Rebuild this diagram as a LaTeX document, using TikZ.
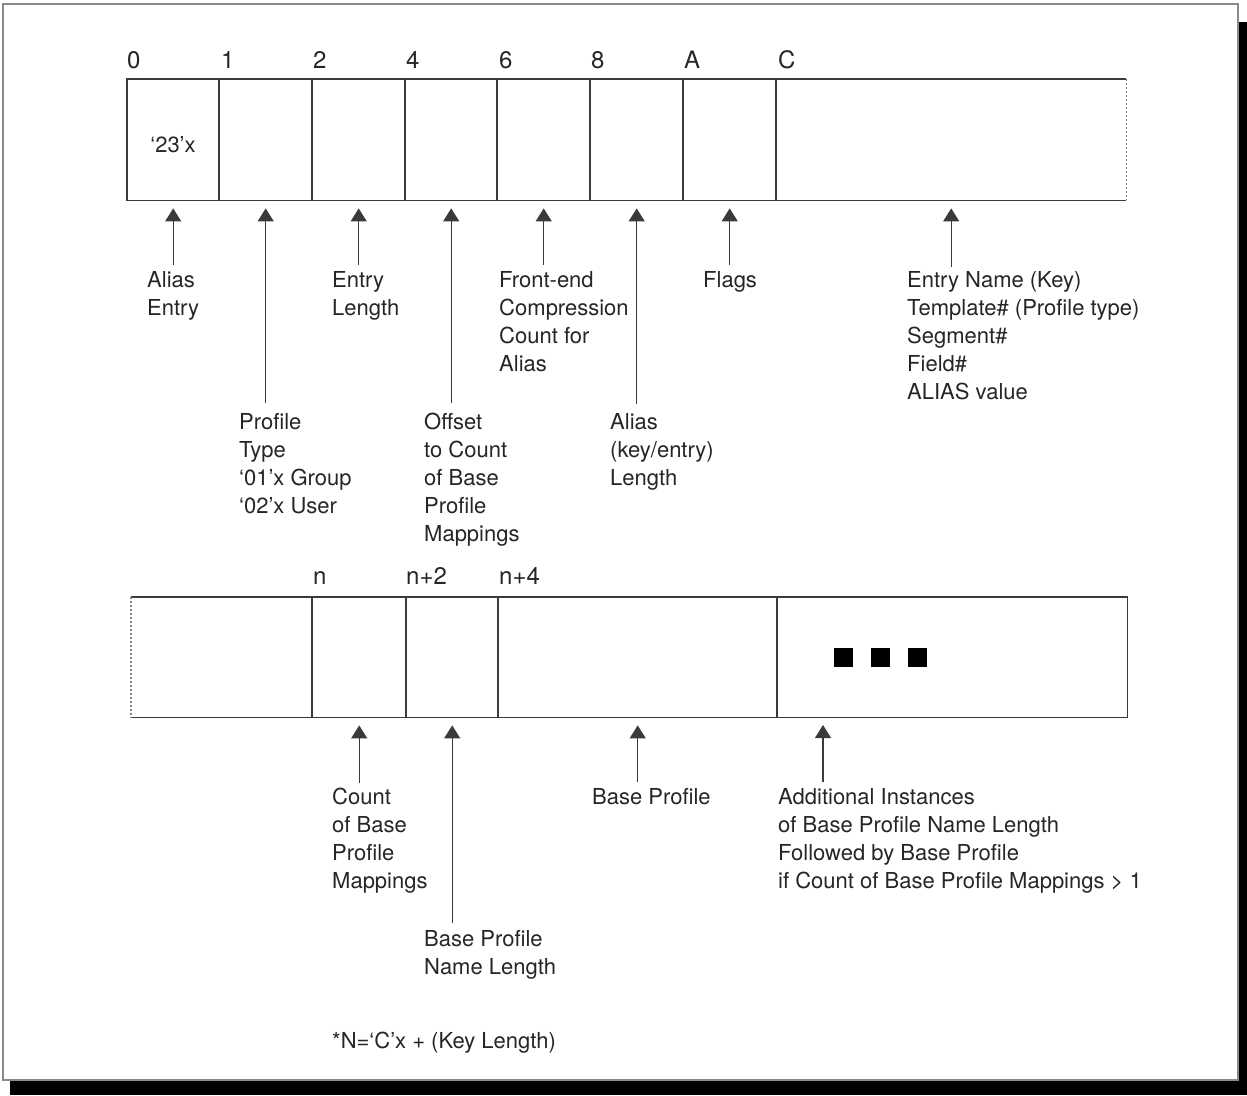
\documentclass[tikz,border=0pt]{standalone}
\usepackage{fontspec}
\setmainfont{TeX Gyre Heros}
\usetikzlibrary{arrows.meta}
\definecolor{ink}{HTML}{262626}
\definecolor{boxline}{HTML}{3A3A3A}
\definecolor{framegray}{HTML}{8A8A8A}
\tikzset{
  cell/.style={draw=none, inner sep=0pt, anchor=north west},
  lbl/.style={inner sep=0pt, anchor=base west, align=left, text=ink,
              font=\fontsize{22}{28}\selectfont},
  offs/.style={inner sep=0pt, anchor=base west, text=ink,
              font=\fontsize{24}{28}\selectfont},
  edge/.style={draw=boxline, line width=1.3pt},
  openedge/.style={draw=gray, line width=1.1pt, dash pattern=on 2pt off 2pt},
  arr/.style={draw=boxline, line width=1.2pt, shorten >=8pt,
              -{Triangle[width=16pt,length=13pt]}},
  sq/.style={fill=black, draw=none, minimum size=19pt, inner sep=0pt}
}
\begin{document}
\begin{tikzpicture}[x=1pt,y=-1pt]
\useasboundingbox (0,0) rectangle (1247,1095);
% shadow and frame
\fill[black] (1238,22) rectangle (1247,1095);
\fill[black] (10,1080) rectangle (1247,1095);
\fill[white] (3,4) rectangle (1238,1080);
\draw[framegray, line width=1.5pt] (3,4) rectangle (1238,1080);

% ---------- top record ----------
\node[cell, minimum width=92pt,  minimum height=121pt] (c0) at (127,79) {};
\node[cell, minimum width=93pt,  minimum height=121pt] (c1) at (219,79) {};
\node[cell, minimum width=93pt,  minimum height=121pt] (c2) at (312,79) {};
\node[cell, minimum width=92pt,  minimum height=121pt] (c3) at (405,79) {};
\node[cell, minimum width=93pt,  minimum height=121pt] (c4) at (497,79) {};
\node[cell, minimum width=93pt,  minimum height=121pt] (c5) at (590,79) {};
\node[cell, minimum width=93pt,  minimum height=121pt] (c6) at (683,79) {};
\node[cell, minimum width=350pt, minimum height=121pt] (c7) at (776,79) {};
\node[inner sep=0pt, text=ink, font=\fontsize{22}{28}\selectfont] (v23) at (173,145) {‘23’x};

\draw[edge] (c7.north east) -- (c0.north west) -- (c0.south west) -- (c7.south east);
\foreach \c in {c1,c2,c3,c4,c5,c6,c7} \draw[edge] (\c.north west) -- (\c.south west);
\draw[openedge] (c7.north east) -- (c7.south east);

\node[offs] (o0) at (127,68) {0};
\node[offs] (o1) at (221,68) {1};
\node[offs] (o2) at (313,68) {2};
\node[offs] (o4) at (406,68) {4};
\node[offs] (o6) at (499,68) {6};
\node[offs] (o8) at (591,68) {8};
\node[offs] (oA) at (684,68) {A};
\node[offs] (oC) at (778,68) {C};

% labels top (anchored at baseline of last line)
\node[lbl] (aliasE) at (147,315) {Alias\\Entry};
\node[lbl] (ptype) at (239,513) {Profile\\Type\\‘01’x Group\\‘02’x User};
\node[lbl] (elen) at (332,315) {Entry\\Length};
\node[lbl] (offset) at (424,541) {Offset\\to Count\\of Base\\Profile\\Mappings};
\node[lbl] (front) at (499,371) {Front-end\\Compression\\Count for\\Alias};
\node[lbl] (alen) at (610,485) {Alias\\(key/entry)\\Length};
\node[lbl] (flags) at (703,287) {Flags};
\node[lbl] (ename) at (907,399) {Entry Name (Key)\\Template\# (Profile type)\\Segment\#\\Field\#\\ALIAS value};

\coordinate (fc0) at (c0.south |- 0,265);
\coordinate (fc1) at (c1.south |- 0,403);
\coordinate (fc2) at (c2.south |- 0,265);
\coordinate (fc3) at (c3.south |- 0,403);
\coordinate (fc4) at (c4.south |- 0,265);
\coordinate (fc5) at (c5.south |- 0,404);
\coordinate (fc6) at (c6.south |- 0,265);
\coordinate (fc7) at (c7.south |- 0,267);
\foreach \i in {0,...,7} \draw[arr] (fc\i) -- (c\i.south);

% ---------- bottom record ----------
\node[cell, minimum width=181pt, minimum height=120pt] (b0) at (131,597) {};
\node[cell, minimum width=94pt,  minimum height=120pt] (b1) at (312,597) {};
\node[cell, minimum width=92pt,  minimum height=120pt] (b2) at (406,597) {};
\node[cell, minimum width=279pt, minimum height=120pt] (b3) at (498,597) {};
\node[cell, minimum width=350pt, minimum height=120pt] (b4) at (777,597) {};

\draw[edge] (b0.north west) -- (b4.north east) -- (b4.south east) -- (b0.south west);
\foreach \c in {b1,b2,b3,b4} \draw[edge] (\c.north west) -- (\c.south west);
\draw[openedge] (b0.north west) -- (b0.south west);

\node[offs] (on) at (313,584) {n};
\node[offs] (on2) at (406,584) {n+2};
\node[offs] (on4) at (499,584) {n+4};

\node[sq] (s1) at (843.5,657) {};
\node[sq] (s2) at (880,657) {};
\node[sq] (s3) at (917.5,657) {};

\node[lbl] (count) at (332,888) {Count\\of Base\\Profile\\Mappings};
\node[lbl] (bpnl) at (424,974) {Base Profile\\Name Length};
\node[lbl] (bprof) at (592,804) {Base Profile};
\node[lbl] (addl) at (778,888) {Additional Instances\\of Base Profile Name Length\\Followed by Base Profile\\if Count of Base Profile Mappings > 1};

\coordinate (fb1) at (b1.south |- 0,783);
\coordinate (fb2) at (b2.south |- 0,923);
\coordinate (fb3) at (b3.south |- 0,782);
\coordinate (fb4) at (823,782);
\coordinate (tb4) at (823,717);
\draw[arr] (fb1) -- (b1.south);
\draw[arr] (fb2) -- (b2.south);
\draw[arr] (fb3) -- (b3.south);
\draw[arr] (fb4) -- (tb4);

\node[lbl] (foot) at (332,1048) {*N=‘C’x + (Key Length)};
\end{tikzpicture}
\end{document}
